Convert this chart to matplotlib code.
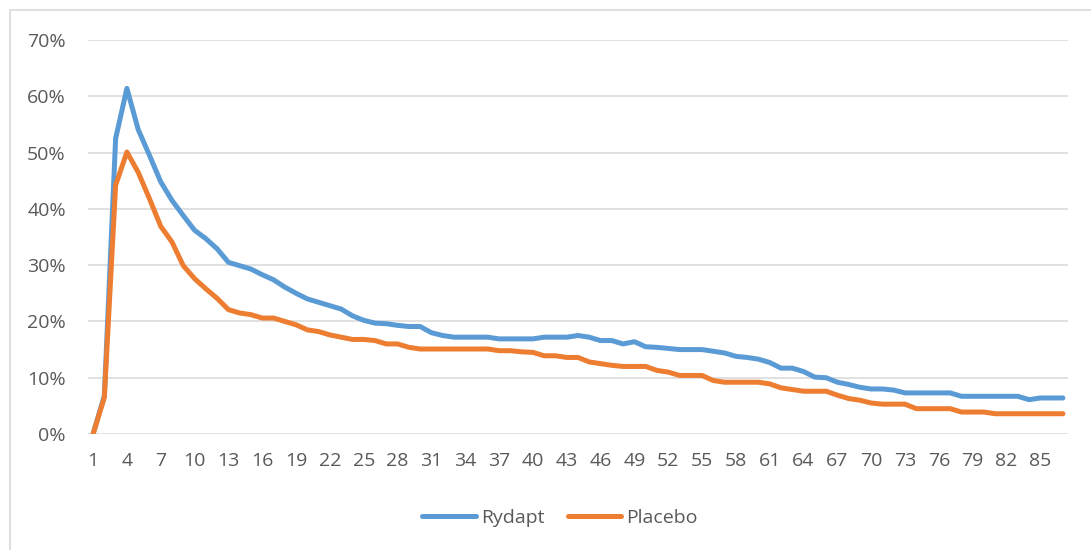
import matplotlib
matplotlib.use('Agg')
import matplotlib.pyplot as plt
from matplotlib.patches import Rectangle
from matplotlib.ticker import PercentFormatter

# values (percent)
rydapt = [0, 6.8, 52.5, 61.4, 54.1, 49.5, 44.8, 41.5, 38.8, 36.2,
          34.7, 32.9, 30.5, 29.9, 29.3, 28.3, 27.4, 26.1, 25.0, 24.0,
          23.4, 22.8, 22.2, 21.0, 20.2, 19.7, 19.6, 19.3, 19.1, 19.1,
          18.0, 17.5, 17.2, 17.2, 17.2, 17.2, 16.9, 16.9, 16.9, 16.9,
          17.2, 17.2, 17.2, 17.5, 17.2, 16.6, 16.6, 16.0, 16.4, 15.5,
          15.4, 15.2, 15.0, 15.0, 15.0, 14.7, 14.4, 13.8, 13.6, 13.3,
          12.7, 11.7, 11.7, 11.1, 10.1, 10.0, 9.2, 8.8, 8.3, 8.0,
          8.0, 7.8, 7.3, 7.3, 7.3, 7.3, 7.3, 6.7, 6.7, 6.7,
          6.7, 6.7, 6.7, 6.1, 6.4, 6.4, 6.4]
placebo = [0, 6.5, 44.2, 50.1, 46.5, 41.8, 36.9, 34.1, 29.9, 27.6,
           25.8, 24.1, 22.1, 21.5, 21.2, 20.6, 20.6, 20.0, 19.4, 18.5,
           18.2, 17.6, 17.2, 16.8, 16.8, 16.6, 16.0, 16.0, 15.4, 15.1,
           15.1, 15.1, 15.1, 15.1, 15.1, 15.1, 14.8, 14.8, 14.6, 14.5,
           13.9, 13.9, 13.6, 13.6, 12.8, 12.5, 12.2, 12.0, 12.0, 12.0,
           11.3, 11.0, 10.4, 10.4, 10.4, 9.5, 9.2, 9.2, 9.2, 9.2,
           8.9, 8.2, 7.9, 7.6, 7.6, 7.6, 6.9, 6.3, 6.0, 5.5,
           5.3, 5.3, 5.3, 4.5, 4.5, 4.5, 4.5, 3.9, 3.9, 3.9,
           3.6, 3.6, 3.6, 3.6, 3.6, 3.6, 3.6]
days = list(range(1, len(rydapt) + 1))
tick_days = list(range(1, 86, 3))

plt.rcParams['font.family'] = ['Open Sans', 'DejaVu Sans']
grey = '#595959'

fig = plt.figure(figsize=(10.91, 5.5), dpi=100)
ax = fig.add_axes([88 / 1091, 116 / 550, 980 / 1091, 394 / 550])

ax.plot(days, [v / 100 for v in rydapt], color='#5B9BD5', lw=3.6,
        solid_joinstyle='round', solid_capstyle='round', label='Rydapt')
ax.plot(days, [v / 100 for v in placebo], color='#ED7D31', lw=3.6,
        solid_joinstyle='round', solid_capstyle='round', label='Placebo')

ax.set_ylim(0, 0.7)
ax.set_xlim(0.55, len(days) + 0.45)
ax.set_yticks([i / 10 for i in range(8)])
ax.yaxis.set_major_formatter(PercentFormatter(1.0, decimals=0))
ax.set_xticks(tick_days)
ax.set_xticklabels([str(d) for d in tick_days])
ax.tick_params(axis='y', length=0, pad=16, labelsize=14, labelcolor=grey)
ax.tick_params(axis='x', length=0, pad=13, labelsize=14, labelcolor=grey)
ax.grid(axis='y', color='#D9D9D9', lw=1.1)
ax.set_axisbelow(True)
for s in ax.spines.values():
    s.set_visible(False)

leg = fig.legend(loc='center', bbox_to_anchor=(560 / 1091, 32 / 550), ncol=2,
                 frameon=False, fontsize=14, handlelength=2.75,
                 handletextpad=0.25, columnspacing=1.2)
for t in leg.get_texts():
    t.set_color(grey)
for h in leg.get_lines():
    h.set_solid_capstyle('round')

# outer chart border
fig.patches.append(Rectangle((10 / 1091, -0.1), 1.1, 0.1 + 540 / 550,
                             transform=fig.transFigure, fill=False,
                             edgecolor='#D9D9D9', lw=1.2))

fig.savefig('out.png', dpi=100)
